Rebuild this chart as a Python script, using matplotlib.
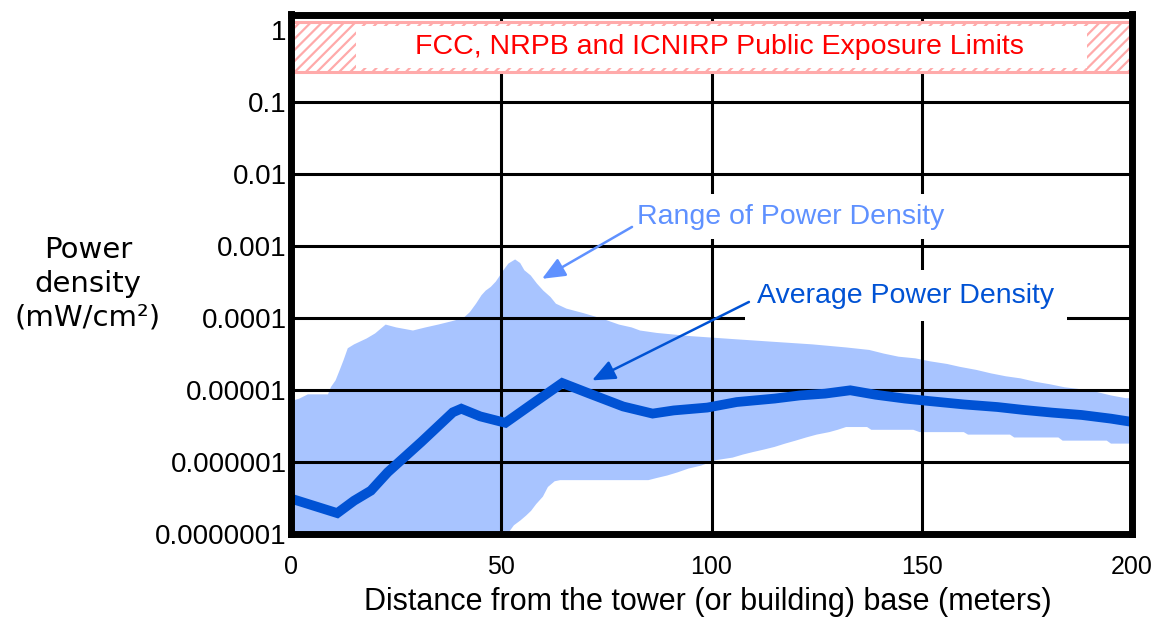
import matplotlib
matplotlib.use("Agg")
import matplotlib.pyplot as plt
import numpy as np

# average power density (thick line)
avg_x = [0, 11, 15, 19, 23, 31, 38.5, 40.5, 45, 51, 58, 64.5, 71, 79, 86, 91,
         99, 106, 115, 121, 127, 133, 139, 146, 152, 160, 168, 174, 181, 188,
         195, 200]
avg_y = [3.1e-7, 1.95e-7, 2.9e-7, 4.0e-7, 7.2e-7, 1.9e-6, 4.9e-6, 5.5e-6,
         4.3e-6, 3.5e-6, 6.8e-6, 1.25e-5, 8.9e-6, 5.9e-6, 4.7e-6, 5.2e-6,
         5.7e-6, 6.8e-6, 7.6e-6, 8.4e-6, 8.9e-6, 9.9e-6, 8.6e-6, 7.6e-6,
         7.0e-6, 6.3e-6, 5.8e-6, 5.3e-6, 4.85e-6, 4.5e-6, 4.0e-6, 3.6e-6]

# range of power density: upper edge
up_x = [0, 2, 4, 8.8, 9.5, 10.6, 11.6, 12.5, 13.5, 15, 18, 20, 22.5, 25, 29,
        32, 35, 38.5, 41, 42.5, 44, 45.3, 46.3, 47.5, 48.7, 49.7, 50.5, 51.7,
        53.3, 54.5, 55.5, 57, 58.5, 60, 61.7, 63, 65.5, 69.5, 74, 78, 81, 83,
        87, 95, 105, 114, 124, 132, 137.5, 141, 144.5, 148.5, 152, 156, 159,
        163, 166.5, 170, 173.5, 177, 180.5, 184, 190, 195, 198.5, 200]
up_y = [7.0e-6, 7.6e-6, 8.7e-6, 8.7e-6, 1.1e-5, 1.36e-5, 1.9e-5, 2.6e-5,
        3.8e-5, 4.3e-5, 5.2e-5, 6.1e-5, 8.1e-5, 7.4e-5, 6.7e-5, 7.4e-5,
        8.1e-5, 9.1e-5, 1.0e-4, 1.2e-4, 1.58e-4, 2.07e-4, 2.4e-4, 2.7e-4,
        3.2e-4, 3.9e-4, 4.6e-4, 5.7e-4, 6.5e-4, 5.8e-4, 4.6e-4, 3.9e-4,
        3.0e-4, 2.4e-4, 1.96e-4, 1.58e-4, 1.35e-4, 1.17e-4, 9.8e-5, 8.1e-5,
        7.4e-5, 6.7e-5, 6.2e-5, 5.6e-5, 5.1e-5, 4.7e-5, 4.3e-5, 3.9e-5,
        3.6e-5, 3.2e-5, 2.9e-5, 2.75e-5, 2.5e-5, 2.3e-5, 2.1e-5, 1.9e-5,
        1.7e-5, 1.55e-5, 1.45e-5, 1.3e-5, 1.2e-5, 1.09e-5, 9.9e-6, 8.4e-6,
        7.7e-6, 7.7e-6]

# range of power density: lower edge (below the axis up to ~50 m)
lo_x = [0, 50.5, 51.5, 53, 54.6, 55.9, 57.1, 58.3, 59.9, 61.1, 62.7, 64, 85,
        87, 89.5, 92, 94.5, 97.5, 101, 105, 107.5, 110, 112.5, 115, 117.5,
        120, 122.5, 125, 128, 130, 132, 137, 138, 148, 149.5, 160, 161, 171,
        172, 182.5, 183.5, 194, 195, 200]
lo_y = [1e-8, 1e-8, 1.0e-7, 1.32e-7, 1.55e-7, 1.8e-7, 2.1e-7, 2.6e-7, 3.3e-7,
        4.5e-7, 5.4e-7, 5.6e-7, 5.6e-7, 6.0e-7, 6.5e-7, 7.2e-7, 8.1e-7,
        8.9e-7, 1.06e-6, 1.15e-6, 1.27e-6, 1.38e-6, 1.49e-6, 1.62e-6, 1.8e-6,
        1.98e-6, 2.19e-6, 2.4e-6, 2.6e-6, 2.8e-6, 3.06e-6, 3.06e-6, 2.8e-6,
        2.8e-6, 2.6e-6, 2.6e-6, 2.4e-6, 2.4e-6, 2.19e-6, 2.19e-6, 1.98e-6,
        1.98e-6, 1.8e-6, 1.8e-6]

# exposure limit band
limit_low = 0.263
limit_high = 1.28

y_ticks = [1, 0.1, 0.01, 0.001, 0.0001, 0.00001, 0.000001, 0.0000001]
y_tick_labels = ["1", "0.1", "0.01", "0.001", "0.0001", "0.00001",
                 "0.000001", "0.0000001"]
x_ticks = [0, 50, 100, 150, 200]

band_color = "#a8c4ff"
line_color = "#0052d4"
range_text_color = "#5f91ff"
pink = "#ffaaaa"

plt.rcParams["hatch.color"] = pink
plt.rcParams["hatch.linewidth"] = 1.6

fig = plt.figure(figsize=(11.54, 6.18), dpi=100)
ax = fig.add_axes([291 / 1154, 1 - 534 / 618, 841 / 1154, 519.5 / 618])
ax.set_yscale("log")
ax.set_xlim(0, 200)
ax.set_ylim(1e-7, 1.64)

# range band as one polygon
poly_x = list(up_x) + list(lo_x[::-1])
poly_y = list(up_y) + list(lo_y[::-1])
ax.fill(poly_x, poly_y, color=band_color, lw=0, zorder=1)

ax.plot(avg_x, avg_y, color=line_color, lw=7, solid_joinstyle="miter",
        solid_capstyle="butt", zorder=3)

ax.grid(True, which="major", color="black", lw=2.2)
ax.grid(False, which="minor")
ax.set_axisbelow(False)
for gl in ax.get_xgridlines() + ax.get_ygridlines():
    gl.set_zorder(2)

# exposure limits band
ax.axhspan(limit_low, limit_high, facecolor="white", edgecolor=pink,
           hatch="///", lw=2.2, zorder=4)
ax.fill_between([15.4, 189.2], 0.30, 1.14, color="white", lw=0, zorder=4.5)
ax.text(102, np.sqrt(limit_low * limit_high),
        "FCC, NRPB and ICNIRP Public Exposure Limits", color="red",
        fontsize=20.5, family="Liberation Sans", ha="center", va="center",
        zorder=5)

# annotations
ax.text(82.3, 2.55e-3, "Range of Power Density", color=range_text_color,
        fontsize=20.5, family="Liberation Sans", ha="left", va="center",
        bbox=dict(facecolor="white", edgecolor="none", pad=7), zorder=5)
ax.annotate("", xy=(59.7, 3.5e-4), xytext=(81.1, 1.84e-3),
            arrowprops=dict(arrowstyle="-|>,head_length=0.7,head_width=0.3",
                            color=range_text_color, lw=1.8,
                            mutation_scale=20, shrinkA=0, shrinkB=0),
            zorder=6)
ax.text(110.9, 2.05e-4, "Average Power Density", color=line_color,
        fontsize=20.5, family="Liberation Sans", ha="left", va="center",
        bbox=dict(facecolor="white", edgecolor="none", pad=9), zorder=5)
ax.annotate("", xy=(71.6, 1.36e-5), xytext=(108.9, 1.67e-4),
            arrowprops=dict(arrowstyle="-|>,head_length=0.7,head_width=0.3",
                            color=line_color, lw=1.8,
                            mutation_scale=20, shrinkA=0, shrinkB=0),
            zorder=6)

for s in ax.spines.values():
    s.set_linewidth(5)
    s.set_zorder(7)

ax.yaxis.set_minor_locator(matplotlib.ticker.NullLocator())
ax.set_yticks(y_ticks)
ax.set_yticklabels(y_tick_labels, family="Liberation Sans", fontsize=20)
ax.set_xticks(x_ticks)
ax.set_xticklabels([str(v) for v in x_ticks], family="Liberation Sans",
                   fontsize=18)
ax.tick_params(axis="y", direction="in", length=5, width=2, pad=3)
ax.tick_params(axis="x", direction="in", length=0, pad=15)

fig.text(88 / 1154, 1 - 284 / 618, "Power\ndensity\n(mW/cm\u00b2)",
         ha="center", va="center", multialignment="center", fontsize=21,
         linespacing=1.25)
fig.text(708 / 1154, 1 - 610 / 618,
         "Distance from the tower (or building) base (meters)",
         ha="center", va="baseline", fontsize=22, family="Liberation Sans")

fig.savefig("out.png", dpi=100)
